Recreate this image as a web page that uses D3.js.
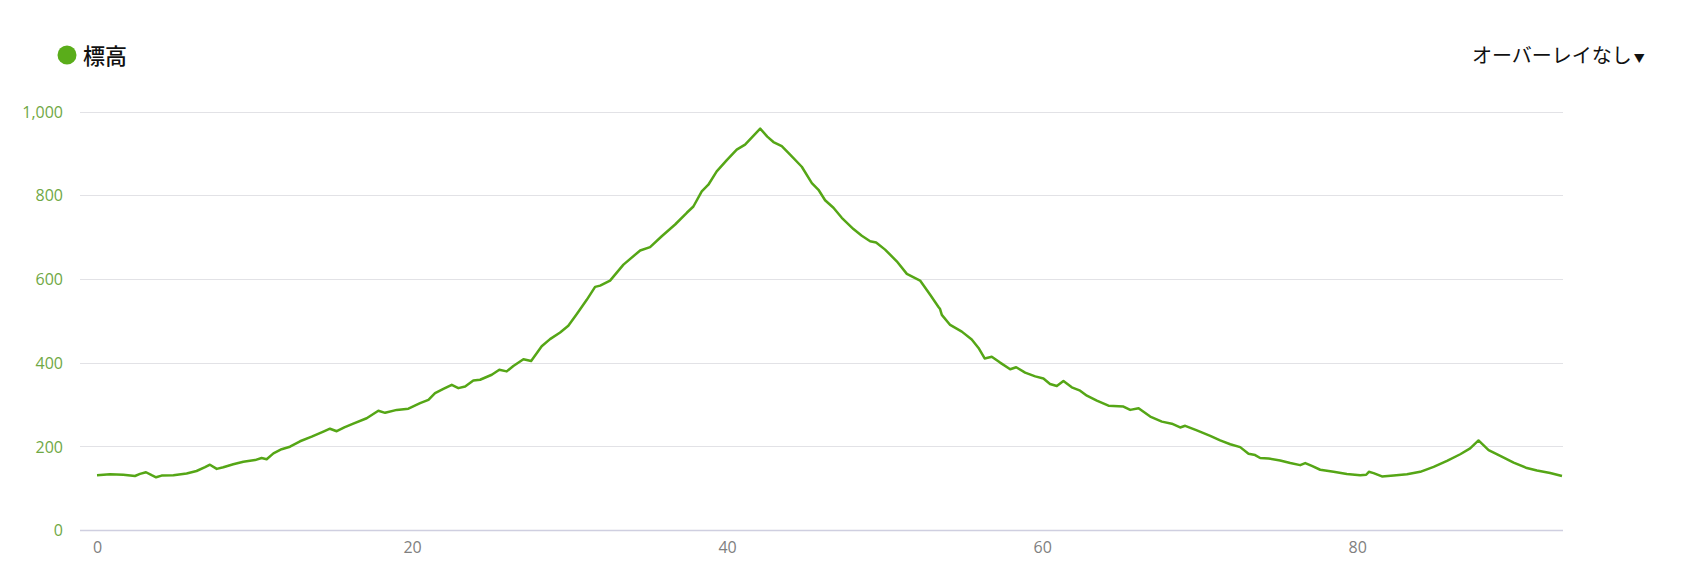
<!DOCTYPE html>
<html>
<head>
<meta charset="utf-8">
<script src="https://cdn.jsdelivr.net/npm/d3@7"></script>
<style>
    html, body { margin: 0; padding: 0; background: #fff; }
    svg { display: block; }
</style>
</head>
<body>
<script>
'use strict';

// distance (km) and elevation (m)
var distKm = [
    0, 0.83, 1.67, 2.41, 2.73, 3.11, 3.47, 3.75, 4.1, 4.85,
    5.69, 6.32, 6.86, 7.17, 7.6, 8.02, 8.65, 9.29, 10.03, 10.45,
    10.77, 11.2, 11.72, 12.25, 12.89, 13.63, 14.37, 14.79, 15.22, 15.7,
    16.27, 17.12, 17.86, 18.29, 19.03, 19.77, 20.51, 21.04, 21.46, 21.99,
    22.52, 22.94, 23.37, 23.89, 24.32, 25.06, 25.54, 26.01, 26.43, 27.07,
    27.56, 28.23, 28.76, 29.4, 29.92, 30.46, 31.09, 31.62, 31.94, 32.57,
    33.42, 34.48, 35.11, 35.85, 36.7, 37.44, 37.86, 38.39, 38.81, 39.34,
    39.98, 40.61, 41.14, 42.1, 42.55, 42.94, 43.47, 44.0, 44.74, 45.38,
    45.8, 46.22, 46.75, 47.28, 48.02, 48.55, 49.08, 49.46, 50.03, 50.77,
    51.41, 52.25, 52.89, 53.42, 53.52, 53.63, 54.16, 54.9, 55.53, 55.96,
    56.35, 56.8, 57.33, 57.97, 58.35, 58.92, 59.56, 60.08, 60.5, 60.93,
    61.35, 61.88, 62.41, 62.84, 63.47, 64.21, 65.16, 65.59, 66.12, 66.86,
    67.6, 68.23, 68.76, 69.08, 69.82, 70.67, 71.3, 71.94, 72.57, 73.1,
    73.52, 73.84, 74.37, 75.11, 75.75, 76.38, 76.7, 77.12, 77.65, 78.5,
    79.34, 80.19, 80.57, 80.74, 81.04, 81.57, 82.31, 83.16, 84.0, 84.85,
    85.7, 86.54, 87.17, 87.7, 88.34, 89.08, 89.93, 90.77, 91.41, 92.25,
    93.0
];

var elevM = [
    131, 133, 132, 129, 134, 138, 131, 126, 130, 131,
    135, 141, 150, 156, 146, 150, 157, 163, 167, 172,
    169, 183, 193, 199, 212, 223, 235, 242, 236, 245,
    254, 267, 285, 280, 287, 290, 303, 311, 327, 337,
    347, 339, 343, 357, 359, 371, 383, 379, 392, 408,
    404, 439, 456, 472, 488, 516, 550, 581, 584, 596,
    634, 668, 676, 702, 730, 758, 773, 809, 825, 857,
    884, 909, 921, 959, 940, 927, 917, 897, 868, 829,
    813, 788, 770, 746, 719, 703, 690, 687, 670, 642,
    612, 596, 562, 533, 528, 514, 490, 474, 455, 435,
    410, 414, 400, 384, 389, 376, 367, 362, 349, 344,
    356, 341, 333, 321, 309, 297, 295, 287, 291, 271,
    259, 254, 245, 249, 238, 225, 214, 205, 198, 182,
    179, 172, 171, 166, 160, 155, 160, 153, 144, 139,
    134, 131, 132, 139, 136, 128, 130, 133, 139, 151,
    165, 181, 195, 214, 191, 177, 161, 148, 142, 136,
    129
];

var yTicks = [0, 200, 400, 600, 800, 1000];
var xTicks = [0, 20, 40, 60, 80];

var seriesName = '標高';
var overlayLabel = 'オーバーレイなし';

var width = 1693,
    height = 585,
    gridLeft = 80,
    gridRight = 1563,
    lineColor = '#55a616',
    tickFont = '"Open Sans", "Noto Sans", sans-serif';

var svg = d3.select('body').append('svg')
    .attr('width', width)
    .attr('height', height);

var x = d3.scaleLinear()
    .domain([0, 93])
    .range([97, 1562]);

var y = d3.scaleLinear()
    .domain([0, 1000])
    .range([530, 111.5]);

// horizontal grid lines
svg.append('g')
    .selectAll('line')
        .data(yTicks)
    .enter().append('line')
    .attr('x1', gridLeft)
    .attr('x2', gridRight)
    .attr('y1', function(d) { return Math.round(y(d)) + 0.5; })
    .attr('y2', function(d) { return Math.round(y(d)) + 0.5; })
    .style('stroke', function(d) { return d === 0 ? '#cfcfe0' : '#e2e2e6'; })
    .style('stroke-width', function(d) { return d === 0 ? 1.5 : 1; });

// y axis labels (no domain, no ticks)
var yAxis = d3.axisLeft(y)
    .tickValues(yTicks)
    .tickSize(0)
    .tickPadding(0)
    .tickFormat(d3.format(','));

svg.append('g')
    .attr('transform', 'translate(63,0)')
    .attr('font-family', tickFont)
    .attr('font-size', 16)
    .call(yAxis)
    .call(function(g) { g.select('.domain').remove(); })
    .selectAll('text')
    .attr('dy', '0.36em')
    .attr('fill', '#6fa845');

// x axis labels
var xAxis = d3.axisBottom(x)
    .tickValues(xTicks)
    .tickSize(0)
    .tickPadding(0);

svg.append('g')
    .attr('transform', 'translate(0,539)')
    .attr('font-family', tickFont)
    .attr('font-size', 16)
    .call(xAxis)
    .call(function(g) { g.select('.domain').remove(); })
    .selectAll('text')
    .attr('dy', '0.9em')
    .attr('fill', '#808080');

// d3 axis writes its own font attrs on the group; put ours back
svg.selectAll('.tick text')
    .style('font-family', tickFont)
    .style('font-size', '16px');

// elevation profile
var line = d3.line()
    .x(function(d, i) { return x(distKm[i]); })
    .y(function(d) { return y(d); });

svg.append('path')
    .datum(elevM)
    .attr('d', line)
    .style('fill', 'none')
    .style('stroke', lineColor)
    .style('stroke-width', 2.5)
    .style('stroke-linejoin', 'round');

// legend
svg.append('circle')
    .attr('cx', 67)
    .attr('cy', 55)
    .attr('r', 9.5)
    .style('fill', '#5aad1a');

svg.append('text')
    .attr('x', 83)
    .attr('y', 64)
    .text(seriesName)
    .style('font-family', '"Noto Sans CJK JP", sans-serif')
    .style('font-size', '22px')
    .style('font-weight', 500)
    .style('fill', '#111');

// overlay selector
var overlay = svg.append('text')
    .attr('x', 1472)
    .attr('y', 63)
    .style('font-family', '"Noto Sans CJK JP", sans-serif')
    .style('font-size', '20px')
    .style('fill', '#111');

overlay.append('tspan').text(overlayLabel);
overlay.append('tspan')
    .attr('dx', 2)
    .style('font-size', '11px')
    .text('▼');
</script>
</body>
</html>
